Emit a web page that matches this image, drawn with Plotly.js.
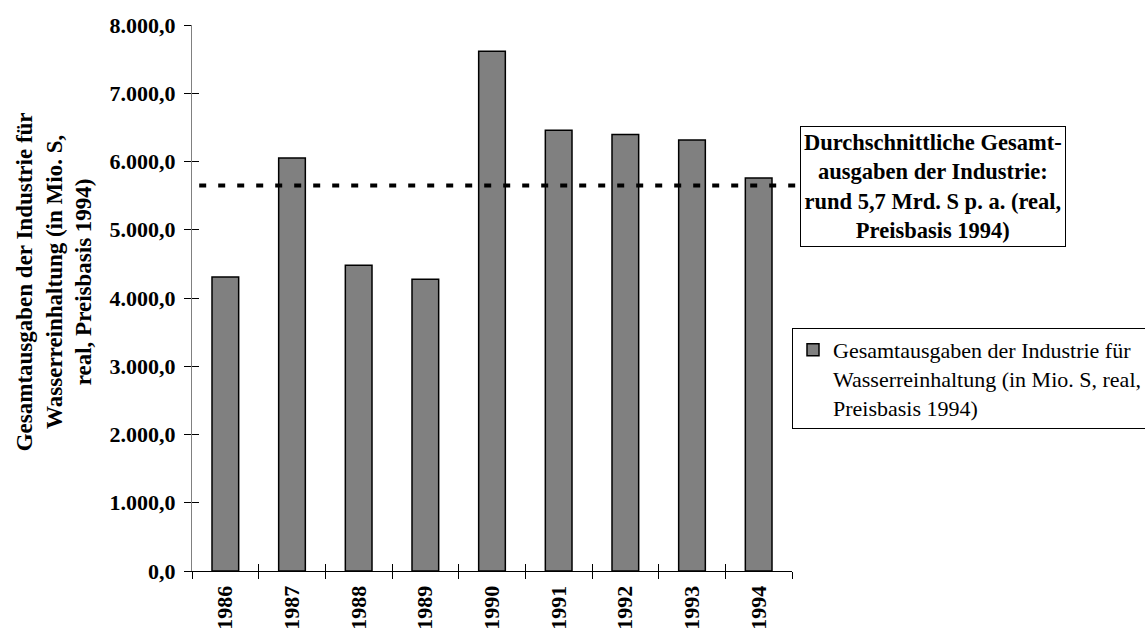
<!DOCTYPE html>
<html>
<head>
<meta charset="utf-8">
<script src="https://cdn.plot.ly/plotly-3.0.1.min.js"></script>
<style>
  html, body { margin: 0; padding: 0; background: #fff; }
  #chart { width: 1145px; height: 632px; }
</style>
</head>
<body>
<div id="chart"></div>
<script>
// Gesamtausgaben der Industrie für Wasserreinhaltung, Mio. S (real, Preisbasis 1994)
const years = ['1986', '1987', '1988', '1989', '1990', '1991', '1992', '1993', '1994'];
const ausgaben = [4308, 6051, 4479, 4274, 7615, 6457, 6394, 6315, 5758];
const durchschnitt = 5650;
const yTicks = [0, 1000, 2000, 3000, 4000, 5000, 6000, 7000, 8000];

const serif = 'Liberation Serif, Times New Roman, serif';
const W = 1145, H = 632;

const bars = {
  type: 'bar',
  x: years,
  y: ausgaben,
  name: 'Gesamtausgaben der Industrie für<br>Wasserreinhaltung (in Mio. S, real,<br>Preisbasis 1994)',
  width: 0.4,
  marker: { color: '#808080', line: { color: '#000000', width: 1.5 } },
  hoverinfo: 'x+y'
};

// twin of the bars on the overlay axes so the inner half of each tick is drawn
const tickTwin = {
  type: 'bar',
  x: years,
  y: ausgaben,
  xaxis: 'x2',
  yaxis: 'y2',
  width: 0.4,
  opacity: 0,
  showlegend: false,
  hoverinfo: 'skip'
};

const layout = {
  width: W,
  height: H,
  paper_bgcolor: '#ffffff',
  plot_bgcolor: '#ffffff',
  separators: ',.',
  margin: { l: 192, r: 353, t: 25, b: 61, autoexpand: false },
  font: { family: serif, color: '#000000' },
  bargap: 0.6,
  xaxis: {
    type: 'category',
    categoryarray: years,
    range: [-0.5, 8.5],
    automargin: false,
    showline: true,
    linecolor: '#000000',
    linewidth: 1,
    ticks: 'outside',
    tickson: 'boundaries',
    ticklen: 7,
    tickcolor: '#000000',
    tickwidth: 1,
    tickangle: -90,
    ticklabelstandoff: 5,
    tickfont: { family: serif, size: 22, color: '#000000', weight: 'bold' },
    showgrid: false,
    zeroline: false,
    fixedrange: true
  },
  xaxis2: {
    type: 'category',
    categoryarray: years,
    range: [-0.5, 8.5],
    overlaying: 'x',
    matches: 'x',
    showline: false,
    ticks: 'inside',
    tickson: 'boundaries',
    ticklen: 7,
    tickcolor: '#000000',
    tickwidth: 1,
    showticklabels: false,
    showgrid: false,
    zeroline: false
  },
  yaxis: {
    range: [0, 8000],
    tickvals: yTicks,
    tickformat: ',.1f',
    automargin: false,
    showline: true,
    linecolor: '#808080',
    linewidth: 1,
    ticks: 'outside',
    ticklen: 7,
    tickcolor: '#000000',
    tickwidth: 1,
    ticklabelstandoff: 4,
    tickfont: { family: serif, size: 22, color: '#000000', weight: 'bold' },
    showgrid: false,
    zeroline: false,
    fixedrange: true
  },
  yaxis2: {
    range: [0, 8000],
    overlaying: 'y',
    tickvals: yTicks,
    ticks: 'inside',
    ticklen: 7,
    tickcolor: '#000000',
    tickwidth: 1,
    showticklabels: false,
    showline: false,
    showgrid: false,
    zeroline: false
  },
  showlegend: true,
  legend: {
    xref: 'container',
    yref: 'container',
    x: 792 / W,
    xanchor: 'left',
    y: 1 - 328 / H,
    yanchor: 'top',
    valign: 'top',
    bgcolor: '#ffffff',
    bordercolor: '#000000',
    borderwidth: 1,
    font: { family: serif, size: 22, color: '#000000' },
    itemwidth: 30,
    tracegroupgap: 0
  },
  shapes: [{
    type: 'line',
    xref: 'paper',
    yref: 'y',
    x0: 0.012,
    x1: 1.02,
    y0: durchschnitt,
    y1: durchschnitt,
    line: { color: '#000000', width: 4, dash: '7px,12px' },
    layer: 'above'
  }],
  annotations: [
    {
      // y-axis title
      xref: 'paper',
      yref: 'paper',
      x: (54 - 192) / 600,
      y: (570.7 - 282) / 546,
      xanchor: 'center',
      yanchor: 'middle',
      textangle: -90,
      text: '<b>Gesamtausgaben der Industrie für<br>Wasserreinhaltung (in Mio. S,<br>real, Preisbasis 1994)</b>',
      showarrow: false,
      align: 'center',
      font: { family: serif, size: 23, color: '#000000' }
    },
    {
      xref: 'paper',
      yref: 'paper',
      x: (933 - 192) / 600,
      y: (570.7 - 186) / 546,
      xanchor: 'center',
      yanchor: 'middle',
      text: '<b>Durchschnittliche Gesamt-<br>ausgaben der Industrie:<br>rund 5,7 Mrd. S p. a. (real,<br>Preisbasis 1994)</b>',
      showarrow: false,
      align: 'center',
      font: { family: serif, size: 22.5, color: '#000000' },
      bgcolor: '#ffffff',
      bordercolor: '#000000',
      borderwidth: 1,
      borderpad: 3
    }
  ]
};

Plotly.newPlot('chart', [bars, tickTwin], layout, { displayModeBar: false, staticPlot: true });
</script>
</body>
</html>
